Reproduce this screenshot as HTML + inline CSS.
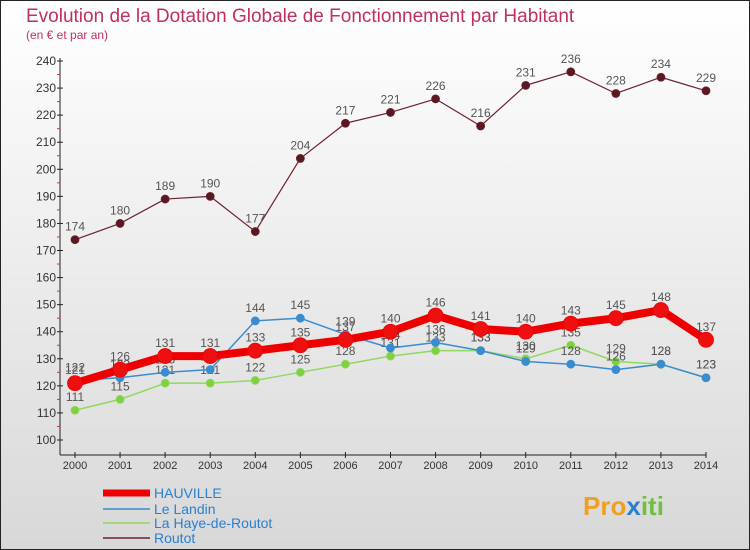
<!DOCTYPE html>
<html><head><meta charset="utf-8"><style>
body{margin:0;width:750px;height:550px;overflow:hidden;font-family:"Liberation Sans",sans-serif}
svg{display:block}
</style></head><body>
<svg id="c" width="750" height="550">
<defs><linearGradient id="bg" x1="0" y1="0" x2="0" y2="1"><stop offset="0" stop-color="#ffffff"/><stop offset="1" stop-color="#d8d8d8"/></linearGradient></defs>
<rect x="0.5" y="0.5" width="749" height="549" fill="url(#bg)" stroke="#222"/>
<text x="26" y="22" font-size="19" fill="#c0305a">Evolution de la Dotation Globale de Fonctionnement par Habitant</text>
<text x="26" y="39" font-size="12" fill="#c0305a">(en € et par an)</text>
<g id="axes"></g><g id="series"></g>
<g>
<line x1="103" y1="493" x2="150" y2="493" stroke="#ee0000" stroke-width="7"/>
<text x="154" y="498" font-size="14" fill="#2a7fd0">HAUVILLE</text>
<line x1="103" y1="509" x2="150" y2="509" stroke="#3a8cd0" stroke-width="1.5"/>
<text x="154" y="514" font-size="14" fill="#2a7fd0">Le Landin</text>
<line x1="103" y1="523" x2="150" y2="523" stroke="#90d860" stroke-width="1.5"/>
<text x="154" y="528" font-size="14" fill="#2a7fd0">La Haye-de-Routot</text>
<line x1="103" y1="538" x2="150" y2="538" stroke="#6b2030" stroke-width="1.5"/>
<text x="154" y="543" font-size="14" fill="#2a7fd0">Routot</text>
</g>
<text x="583" y="515" font-size="26" font-weight="bold" fill="#f0a020">Pro<tspan fill="#2a7fd0">x</tspan><tspan fill="#70c040">iti</tspan></text>
</svg>
<script>
const years=[2000,2001,2002,2003,2004,2005,2006,2007,2008,2009,2010,2011,2012,2013,2014];
const yTicks=[100,110,120,130,140,150,160,170,180,190,200,210,220,230,240];
const routot=[174,180,189,190,177,204,217,221,226,216,231,236,228,234,229];
const hauville=[121,126,131,131,133,135,137,140,146,141,140,143,145,148,137];
const landin=[122,123,125,126,144,145,139,134,136,133,129,128,126,128,123];
const haye=[111,115,121,121,122,125,128,131,133,133,130,135,129,128,123];
const NS='http://www.w3.org/2000/svg';
const X=i=>75+i*(706-75)/14;
const Y=v=>440-(v-100)*(440-61)/140;
function mk(t,a,p){const e=document.createElementNS(NS,t);for(const k in a)e.setAttribute(k,a[k]);p.appendChild(e);return e;}
const ax=document.getElementById('axes'),sg=document.getElementById('series');
let l=mk('line',{x1:60,y1:58,x2:60,y2:455,stroke:'#222'},ax);


l=mk('line',{x1:60,y1:455,x2:706,y2:455,stroke:'#222'},ax);


yTicks.forEach(v=>{mk('line',{x1:57,x2:63,y1:Y(v),y2:Y(v),stroke:'#222'},ax);
if(v<240)mk('line',{x1:57,x2:60,y1:Y(v+5),y2:Y(v+5),stroke:'#e03030'},ax);
const t=mk('text',{x:56,y:Y(v)+4,'text-anchor':'end','font-size':12,fill:'#333'},ax);t.textContent=v;

});
years.forEach((y,i)=>{mk('line',{x1:X(i),x2:X(i),y1:452,y2:458,stroke:'#222'},ax);
const t=mk('text',{x:X(i),y:469,'text-anchor':'middle','font-size':11,fill:'#333'},ax);t.textContent=y;

});
function series(d,name,col,w,r,fill){
const g=mk('g',{},sg);


const p=mk('polyline',{points:d.map((v,i)=>X(i)+','+Y(v)).join(' '),fill:'none',stroke:col,'stroke-width':w,'stroke-linejoin':'round'},g);


d.forEach((v,i)=>{const c=mk('circle',{cx:X(i),cy:Y(v),r:r,fill:fill,stroke:col,'stroke-width':0.8},g);


const t=mk('text',{x:X(i),y:Y(v)-9,'text-anchor':'middle','font-size':12,fill:'#555'},g);t.textContent=v;

});}
series(haye,'la-haye','#90d860',1.5,4,'#80d040');
series(landin,'le-landin','#3a8cd0',1.5,4,'#3a8cd0');
series(hauville,'hauville','#ee0000',8,7.5,'#ee1010');
series(routot,'routot','#6b2030',1.2,4,'#5a1820');
</script>
</body></html>
